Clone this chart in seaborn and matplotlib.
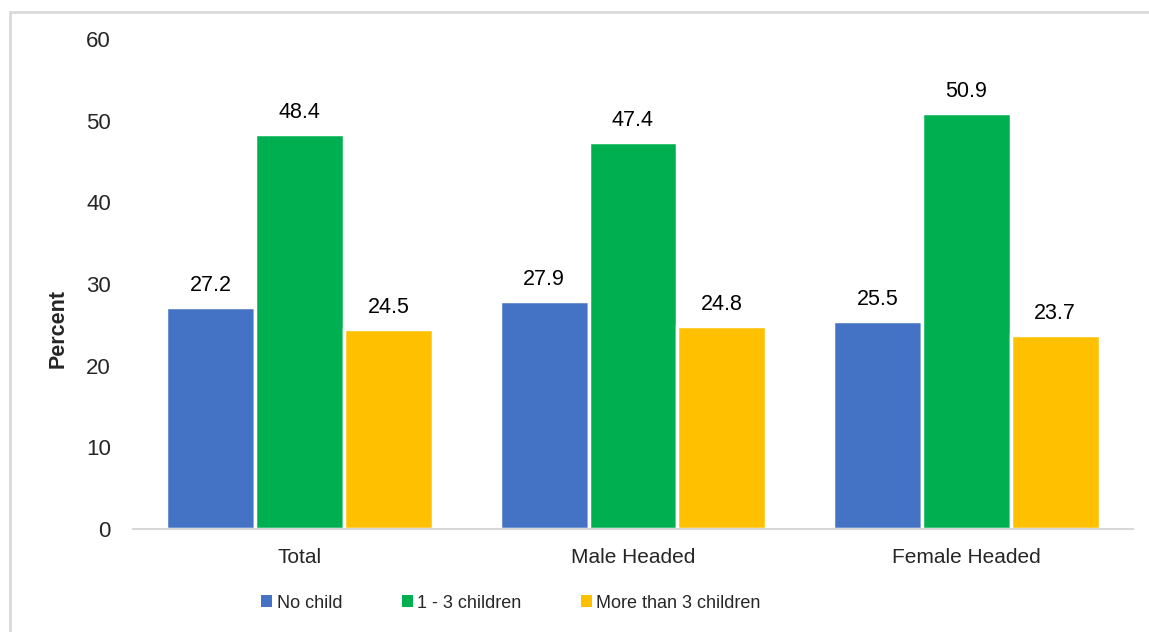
import pandas as pd
import matplotlib.pyplot as plt
import seaborn as sns
from matplotlib.patches import Rectangle

# Data
categories = ["Total", "Male Headed", "Female Headed"]
groups = ["No child", "1 - 3 children", "More than 3 children"]
no_child = [27.2, 27.9, 25.5]
one_to_three = [48.4, 47.4, 50.9]
more_than_three = [24.5, 24.8, 23.7]
colors = ["#4472C4", "#00B050", "#FFC000"]

df = pd.DataFrame({
    "category": categories * 3,
    "group": [groups[0]] * 3 + [groups[1]] * 3 + [groups[2]] * 3,
    "value": no_child + one_to_three + more_than_three,
})

sns.set_style("white")
plt.rcParams["font.family"] = ["Liberation Sans", "DejaVu Sans"]

fig = plt.figure(figsize=(11.49, 6.32), dpi=100)
ax = fig.add_axes([133 / 1149, 103 / 632, 1000 / 1149, 490 / 632])

sns.barplot(data=df, x="category", y="value", hue="group", order=categories,
            hue_order=groups, palette=colors, width=0.8, edgecolor="white",
            linewidth=2.5, saturation=1, ax=ax)

# value labels above each bar
for container in ax.containers:
    ax.bar_label(container, fmt="%.1f", padding=8, fontsize=15.5, color="#000000")

ax.set_ylim(0, 60)
ax.set_xlim(-0.5, 2.5)
ax.set_yticks(range(0, 61, 10))
ax.tick_params(axis="y", length=0, pad=16, labelsize=16)
ax.tick_params(axis="x", length=0, pad=14, labelsize=15)
ax.set_xlabel("")
ax.set_ylabel("Percent", fontsize=15.5, fontweight="bold")
ax.yaxis.set_label_coords(-0.064, 0.41)

for side in ["top", "right", "left"]:
    ax.spines[side].set_visible(False)
ax.spines["bottom"].set_color("#d9d9d9")
ax.spines["bottom"].set_linewidth(1.5)

leg = ax.legend(loc="center", bbox_to_anchor=(511 / 1149, 29 / 632),
                bbox_transform=fig.transFigure, ncol=3, frameon=False, fontsize=13,
                handlelength=0.6, handleheight=0.6, handletextpad=0.25,
                columnspacing=3.3)
for h in leg.legend_handles:
    h.set_linewidth(0)

# light grey frame round the chart
fig.patches.append(Rectangle((10 / 1149, -0.05), 1.2, (632 - 12) / 632 + 0.05,
                             transform=fig.transFigure, fill=False,
                             edgecolor="#d9d9d9", linewidth=2, zorder=0))

fig.savefig("out.png", dpi=100)
